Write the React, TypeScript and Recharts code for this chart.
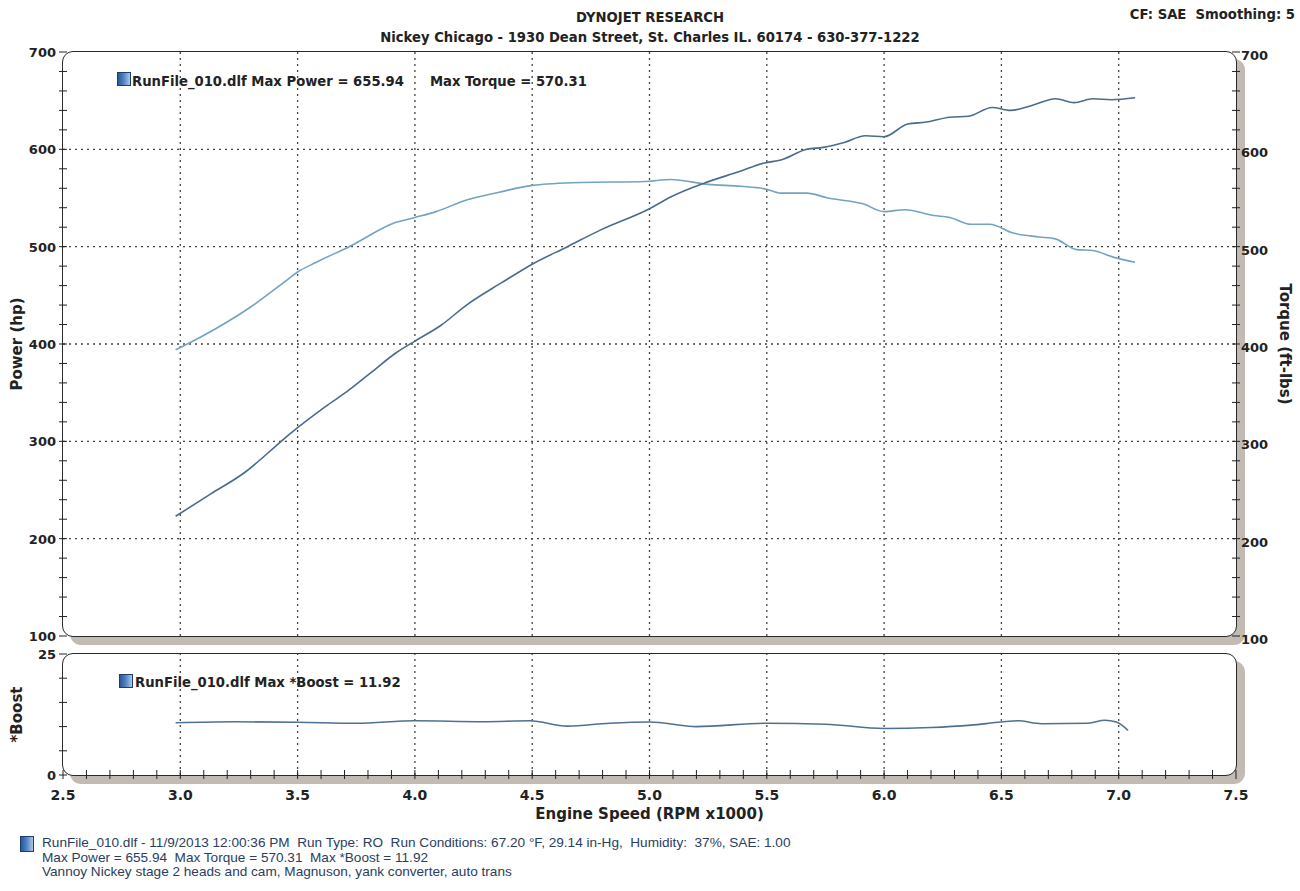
import { LineChart, Line, XAxis, YAxis, ReferenceLine } from "recharts";

// engine speed in rpm x1000
const powerRpm = [2.98, 3.13, 3.28, 3.35, 3.42, 3.5, 3.62, 3.71, 3.81, 3.92, 4.0, 4.11, 4.22, 4.37, 4.5, 4.65, 4.79, 5.0, 5.09, 5.23, 5.38, 5.49, 5.56, 5.67, 5.74, 5.83, 5.92, 6.0, 6.1, 6.18, 6.28, 6.36, 6.46, 6.54, 6.63, 6.73, 6.81, 6.89, 6.97, 7.07];
const powerHp = [223, 246, 269, 283, 298, 314, 336, 351, 370, 391, 403, 419, 440, 463, 482, 500, 517, 539, 551, 565, 577, 586, 589, 600, 602, 607, 614, 613, 626, 628, 633, 634, 643, 640, 645, 652, 648, 652, 651, 653];

const torqueRpm = [2.98, 3.03, 3.16, 3.3, 3.44, 3.5, 3.58, 3.72, 3.92, 4.0, 4.09, 4.22, 4.36, 4.5, 4.71, 4.98, 5.09, 5.25, 5.39, 5.5, 5.56, 5.67, 5.76, 5.91, 6.0, 6.09, 6.21, 6.28, 6.37, 6.45, 6.55, 6.66, 6.73, 6.82, 6.89, 6.98, 7.07];
const torqueFtLb = [394, 400, 417, 438, 463, 474, 484, 500, 525, 530, 536, 548, 556, 563, 566, 567, 569, 564, 562, 559, 555, 555, 550, 544, 536, 538, 532, 530, 523, 523, 514, 510, 508, 497, 496, 489, 484];

const boostRpm = [2.98, 3.23, 3.5, 3.75, 4.0, 4.29, 4.49, 4.65, 4.83, 5.0, 5.2, 5.5, 5.75, 6.0, 6.2, 6.37, 6.5, 6.57, 6.67, 6.87, 6.94, 6.99, 7.04];
const boostPsi = [10.8, 11.0, 10.9, 10.7, 11.2, 11.0, 11.2, 10.1, 10.7, 10.95, 10.0, 10.7, 10.5, 9.6, 9.8, 10.3, 10.95, 11.2, 10.6, 10.7, 11.3, 10.95, 9.2];

const rpmGrid = [3.0, 3.5, 4.0, 4.5, 5.0, 5.5, 6.0, 6.5, 7.0];
const hpGrid = [200, 300, 400, 500, 600];
const hpLabels = [100, 200, 300, 400, 500, 600, 700];
const boostLabels = [0, 25];

const powerData = powerRpm.map((rpm, i) => ({ rpm, hp: powerHp[i] }));
const torqueData = torqueRpm.map((rpm, i) => ({ rpm, tq: torqueFtLb[i] }));
const boostData = boostRpm.map((rpm, i) => ({ rpm, boost: boostPsi[i] }));

// minor tick marks: every 20 on power/torque, every 5 on boost, every 0.1 on rpm
const hpTicks = Array.from({ length: 31 }, (_, i) => 100 + i * 20);
const boostTicks = [0, 5, 10, 15, 20, 25];
const rpmTicks = Array.from({ length: 51 }, (_, i) => (25 + i) / 10);

const FONT = "'DejaVu Sans', Verdana, sans-serif";
const INK = "#222";
const GRID = { stroke: "#444", strokeDasharray: "2 4", strokeWidth: 1.3 };

function leftTick(labels: number[]) {
  return (p: any) => {
    const v = p.payload.value;
    return (
      <g>
        <line x1={p.x - 4} x2={p.x + 4} y1={p.y} y2={p.y} stroke={INK} strokeWidth={1} />
        {labels.includes(v) && (
          <text x={p.x - 7} y={p.y + 5} textAnchor="end" fontFamily={FONT} fontWeight="bold" fontSize={13} fill={INK}>
            {v}
          </text>
        )}
      </g>
    );
  };
}

function rightTick(p: any) {
  const v = p.payload.value;
  return (
    <g>
      <line x1={p.x - 4} x2={p.x + 4} y1={p.y} y2={p.y} stroke={INK} strokeWidth={1} />
      {hpLabels.includes(v) && (
        <text x={p.x + 5} y={p.y + 8} textAnchor="start" fontFamily={FONT} fontWeight="bold" fontSize={13} fill={INK}>
          {v}
        </text>
      )}
    </g>
  );
}

function rpmTick(p: any) {
  const v = Math.round(p.payload.value * 10);
  return (
    <g>
      <line x1={p.x} x2={p.x} y1={p.y - 5} y2={p.y + 4} stroke={INK} strokeWidth={1} />
      {v % 5 === 0 && (
        <text x={p.x} y={p.y + 25} textAnchor="middle" fontFamily={FONT} fontWeight="bold" fontSize={14} fill={INK}>
          {(v / 10).toFixed(1)}
        </text>
      )}
    </g>
  );
}

const frame = (top: number, height: number): React.CSSProperties => ({
  position: "absolute",
  left: 62,
  top,
  width: 1175,
  height,
  boxSizing: "border-box",
  border: "1.5px solid #2a2a2a",
  borderRadius: 11,
  boxShadow: "8px 8px 0 #c2bbb4",
  background: "#fff",
});

const icon = (left: number, top: number, h = 12): React.CSSProperties => ({
  position: "absolute",
  left,
  top,
  width: 12,
  height: h,
  border: "1px solid #1d3d6e",
  background: "linear-gradient(90deg, #2a5899 0%, #4f80c0 45%, #a9c8ea 100%)",
});

const bold: React.CSSProperties = { position: "absolute", fontFamily: FONT, fontWeight: "bold", fontSize: 13.2, lineHeight: "16px", color: INK, whiteSpace: "pre" };

export default function App() {
  return (
    <div style={{ position: "absolute", left: 0, top: 0, width: 1300, height: 891, background: "#fff", overflow: "hidden" }}>
      <div style={{ ...bold, left: 0, width: 1300, top: 10, textAlign: "center" }}>DYNOJET RESEARCH</div>
      <div style={{ ...bold, left: 0, width: 1300, top: 30, textAlign: "center" }}>
        Nickey Chicago - 1930 Dean Street, St. Charles IL. 60174 - 630-377-1222
      </div>
      <div style={{ ...bold, right: 5, top: 7 }}>{"CF: SAE  Smoothing: 5"}</div>

      <div style={frame(51, 586)} />
      <div style={frame(653, 123)} />

      <div style={{ position: "absolute", left: 0, top: 0 }}>
        <LineChart width={1300} height={650} margin={{ top: 52, right: 24, bottom: 14, left: 23 }}>
          <XAxis dataKey="rpm" type="number" domain={[2.5, 7.5]} ticks={rpmTicks} hide allowDuplicatedCategory={false} />
          <YAxis
            yAxisId="hp"
            domain={[100, 700]}
            ticks={hpTicks}
            interval={0}
            width={40}
            axisLine={false}
            tickLine={false}
            tickSize={0}
            tickMargin={0}
            tick={leftTick(hpLabels)}
            label={{ value: "Power (hp)", angle: -90, position: "left", offset: 6, fill: INK, fontFamily: FONT, fontWeight: "bold", fontSize: 15, style: { textAnchor: "middle" } }}
          />
          <YAxis
            yAxisId="tq"
            orientation="right"
            domain={[100, 700]}
            ticks={hpTicks}
            interval={0}
            width={40}
            axisLine={false}
            tickLine={false}
            tickSize={0}
            tickMargin={0}
            tick={rightTick}
            label={{ value: "Torque (ft-lbs)", angle: 90, position: "right", offset: 9, fill: INK, fontFamily: FONT, fontWeight: "bold", fontSize: 15, style: { textAnchor: "middle" } }}
          />
          {hpGrid.map((v) => (
            <ReferenceLine key={"h" + v} yAxisId="hp" y={v} {...GRID} />
          ))}
          {rpmGrid.map((v) => (
            <ReferenceLine key={"v" + v} yAxisId="hp" x={v} {...GRID} />
          ))}
          <Line yAxisId="tq" data={torqueData} dataKey="tq" type="monotone" stroke="#74a2c1" strokeWidth={1.6} dot={false} activeDot={false} isAnimationActive={false} />
          <Line yAxisId="hp" data={powerData} dataKey="hp" type="monotone" stroke="#4b6b8d" strokeWidth={1.6} dot={false} activeDot={false} isAnimationActive={false} />
        </LineChart>
      </div>

      <div style={{ position: "absolute", left: 0, top: 640 }}>
        <LineChart width={1300} height={190} margin={{ top: 14, right: 64, bottom: 5, left: 23 }}>
          <XAxis
            dataKey="rpm"
            type="number"
            domain={[2.5, 7.5]}
            ticks={rpmTicks}
            interval={0}
            height={50}
            axisLine={false}
            tickLine={false}
            tickSize={0}
            tickMargin={0}
            tick={rpmTick}
            label={{ value: "Engine Speed (RPM x1000)", position: "insideBottom", offset: 6, fill: INK, fontFamily: FONT, fontWeight: "bold", fontSize: 15 }}
          />
          <YAxis
            domain={[0, 25]}
            ticks={boostTicks}
            interval={0}
            width={40}
            axisLine={false}
            tickLine={false}
            tickSize={0}
            tickMargin={0}
            tick={leftTick(boostLabels)}
            label={{ value: "*Boost", angle: -90, position: "left", offset: 6, fill: INK, fontFamily: FONT, fontWeight: "bold", fontSize: 15, style: { textAnchor: "middle" } }}
          />
          {rpmGrid.map((v) => (
            <ReferenceLine key={"b" + v} x={v} {...GRID} />
          ))}
          <Line data={boostData} dataKey="boost" type="monotone" stroke="#4e7193" strokeWidth={1.6} dot={false} activeDot={false} isAnimationActive={false} />
        </LineChart>
      </div>

      <div style={icon(117, 72)} />
      <div style={{ ...bold, left: 132, top: 74 }}>RunFile_010.dlf Max Power = 655.94</div>
      <div style={{ ...bold, left: 430, top: 74 }}>Max Torque = 570.31</div>

      <div style={icon(119, 674)} />
      <div style={{ ...bold, left: 135, top: 675 }}>RunFile_010.dlf Max *Boost = 11.92</div>

      <div style={icon(20, 836, 14)} />
      <div
        style={{
          position: "absolute",
          left: 42,
          top: 836,
          fontFamily: "'Liberation Sans', Arial, sans-serif",
          fontSize: 13.6,
          lineHeight: "14.5px",
          color: "#2b3d62",
          whiteSpace: "pre",
        }}
      >
        {"RunFile_010.dlf - 11/9/2013 12:00:36 PM  Run Type: RO  Run Conditions: 67.20 °F, 29.14 in-Hg,  Humidity:  37%, SAE: 1.00\n"}
        {"Max Power = 655.94  Max Torque = 570.31  Max *Boost = 11.92\n"}
        {"Vannoy Nickey stage 2 heads and cam, Magnuson, yank converter, auto trans"}
      </div>
    </div>
  );
}
